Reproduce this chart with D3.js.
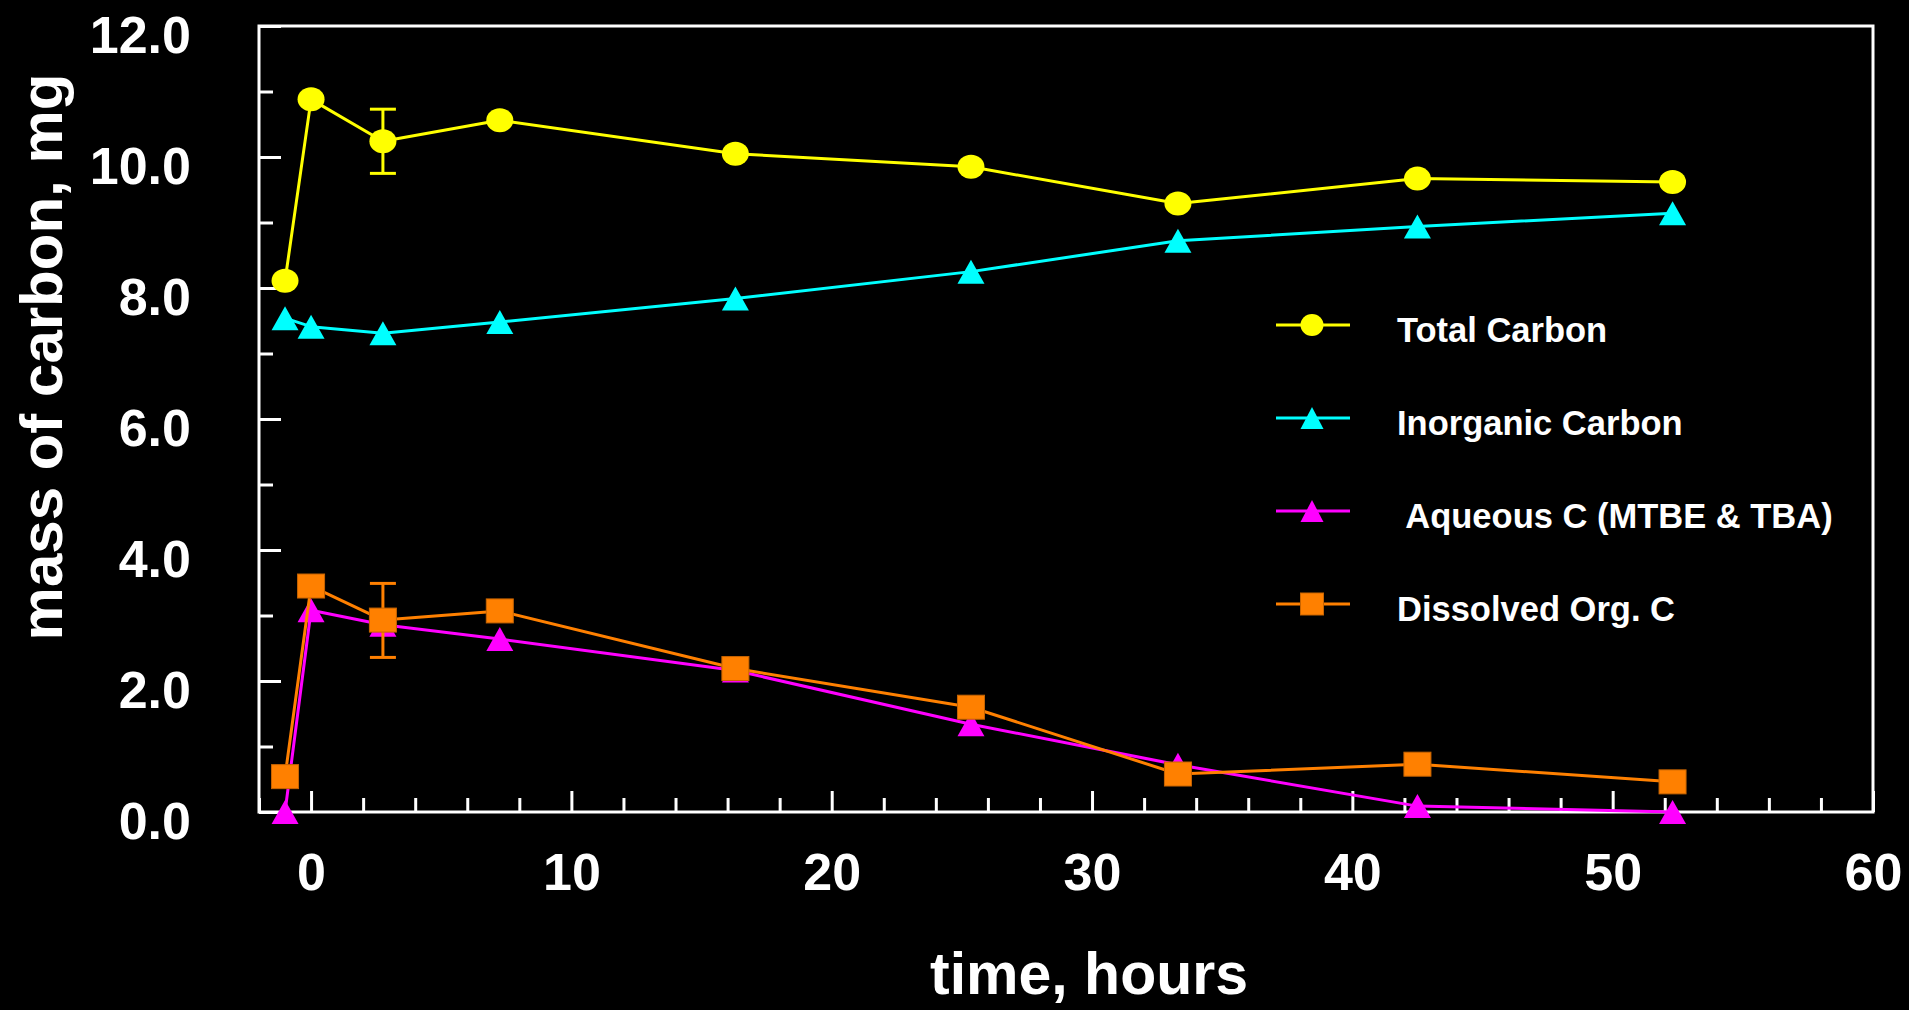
<!DOCTYPE html>
<html>
<head>
<meta charset="utf-8">
<script src="https://cdn.jsdelivr.net/npm/d3@7"></script>
<style>
  html, body { margin: 0; padding: 0; background: #000; }
  svg { display: block; }
  text { font-family: "Liberation Sans", Arial, sans-serif; font-weight: bold; fill: #fff; }
</style>
</head>
<body>
<svg id="chart" width="1909" height="1010"></svg>
<script>
// ---- data ----
const hours = [-1, 0, 2.76, 7.25, 16.3, 25.35, 33.3, 42.5, 52.3];
const totalCarbon = [8.11, 10.88, 10.24, 10.56, 10.05, 9.85, 9.29, 9.67, 9.62];
const inorganicCarbon = [7.54, 7.41, 7.31, 7.48, 7.84, 8.25, 8.72, 8.94, 9.14];
const aqueousC = [0.0, 3.08, 2.86, 2.64, 2.16, 1.34, 0.72, 0.09, 0.0];
const dissolvedOrgC = [0.54, 3.45, 2.93, 3.07, 2.19, 1.60, 0.58, 0.73, 0.46];
// error bars (only at t = 2.76 h): [hour index, low, high]
const totalErr = [[2, 9.75, 10.73]];
const dissolvedErr = [[2, 2.36, 3.49]];

const seriesNames = ["Total Carbon", "Inorganic Carbon", " Aqueous C (MTBE & TBA)", "Dissolved Org. C"];
const seriesColors = ["#ffff00", "#00ffff", "#ff00ff", "#ff8000"];
const seriesShapes = ["circle", "triangle", "triangle", "square"];

const xMajorTicks = [0, 10, 20, 30, 40, 50, 60];
const xMinorTicks = [-2, 2, 4, 6, 8, 12, 14, 16, 18, 22, 24, 26, 28, 32, 34, 36, 38, 42, 44, 46, 48, 52, 54, 56, 58];
const yMajorTicks = [0, 2, 4, 6, 8, 10, 12];
const yMinorTicks = [1, 3, 5, 7, 9, 11];
const xTitle = "time, hours";
const yTitle = "mass of carbon, mg";

// ---- layout ----
const svg = d3.select("#chart");
const x = d3.scaleLinear().domain([-2, 60]).range([259, 1873]);
const y = d3.scaleLinear().domain([0, 12]).range([812, 26]);

// axes
const gx = svg.append("g").attr("transform", `translate(0,${y(0)})`)
  .call(d3.axisBottom(x).tickValues(xMajorTicks).tickSize(-21).tickFormat(d3.format("d")));
gx.select(".domain").remove();
gx.selectAll("line").attr("stroke", "#fff").attr("stroke-width", 3);
gx.selectAll("text").attr("y", 78).attr("dy", null).style("font-size", "52px").attr("fill", "#fff");

const gxm = svg.append("g").attr("transform", `translate(0,${y(0)})`)
  .call(d3.axisBottom(x).tickValues(xMinorTicks).tickSize(-14).tickFormat(""));
gxm.select(".domain").remove();
gxm.selectAll("line").attr("stroke", "#fff").attr("stroke-width", 3);

const gy = svg.append("g").attr("transform", `translate(${x(-2)},0)`)
  .call(d3.axisLeft(y).tickValues(yMajorTicks).tickSize(-22).tickFormat(d3.format(".1f")));
gy.select(".domain").remove();
gy.selectAll("line").attr("stroke", "#fff").attr("stroke-width", 3);
gy.selectAll("text").attr("x", -68).attr("y", 26).attr("dy", null)
  .attr("text-anchor", "end").style("font-size", "52px").attr("fill", "#fff");

const gym = svg.append("g").attr("transform", `translate(${x(-2)},0)`)
  .call(d3.axisLeft(y).tickValues(yMinorTicks).tickSize(-14).tickFormat(""));
gym.select(".domain").remove();
gym.selectAll("line").attr("stroke", "#fff").attr("stroke-width", 3);

// frame
svg.append("rect")
  .attr("x", x(-2)).attr("y", y(12))
  .attr("width", x(60) - x(-2)).attr("height", y(0) - y(12))
  .attr("fill", "none").attr("stroke", "#fff").attr("stroke-width", 3);

// titles
svg.append("text").attr("x", 1089).attr("y", 994).attr("text-anchor", "middle")
  .style("font-size", "59px").text(xTitle);
svg.append("text").attr("transform", "translate(62,357) rotate(-90)").attr("text-anchor", "middle")
  .style("font-size", "60px").text(yTitle);

// marker drawing
function drawMarker(g, shape, cx, cy, color, w, h) {
  if (shape === "circle") {
    g.append("ellipse").attr("cx", cx).attr("cy", cy).attr("rx", w / 2).attr("ry", h / 2).attr("fill", color);
  } else if (shape === "square") {
    g.append("rect").attr("x", cx - w / 2).attr("y", cy - h / 2).attr("width", w).attr("height", h)
      .attr("fill", color).attr("stroke", "#c86400").attr("stroke-width", 1);
  } else {
    g.append("polygon")
      .attr("points", `${cx},${cy - h / 2} ${cx + w / 2},${cy + h / 2} ${cx - w / 2},${cy + h / 2}`)
      .attr("fill", color);
  }
}

const allSeries = [totalCarbon, inorganicCarbon, aqueousC, dissolvedOrgC];
const allErr = [totalErr, [], [], dissolvedErr];
const line = d3.line().x(d => x(d[0])).y(d => y(d[1]));

allSeries.forEach((vals, si) => {
  const g = svg.append("g");
  const color = seriesColors[si];
  const pts = hours.map((h, i) => [h, vals[i]]);
  g.append("path").attr("d", line(pts)).attr("fill", "none")
    .attr("stroke", color).attr("stroke-width", 3).attr("stroke-linejoin", "round");
  allErr[si].forEach(([i, lo, hi]) => {
    const cx = x(hours[i]);
    g.append("line").attr("x1", cx).attr("x2", cx).attr("y1", y(lo)).attr("y2", y(hi))
      .attr("stroke", color).attr("stroke-width", 3);
    [lo, hi].forEach(v => g.append("line").attr("x1", cx - 13).attr("x2", cx + 13)
      .attr("y1", y(v)).attr("y2", y(v)).attr("stroke", color).attr("stroke-width", 3));
  });
  pts.forEach(p => drawMarker(g, seriesShapes[si], x(p[0]), y(p[1]), color, 27, 24));
});

// legend
const legend = svg.append("g");
seriesNames.forEach((name, i) => {
  const ly = 325 + i * 93;
  legend.append("line").attr("x1", 1276).attr("x2", 1350).attr("y1", ly).attr("y2", ly)
    .attr("stroke", seriesColors[i]).attr("stroke-width", 3);
  drawMarker(legend, seriesShapes[i], 1312, ly, seriesColors[i], 23, 22);
  legend.append("text").attr("x", 1397).attr("y", ly + 17)
    .style("font-size", "34.5px").style("white-space", "pre").text(name);
});
</script>
</body>
</html>
